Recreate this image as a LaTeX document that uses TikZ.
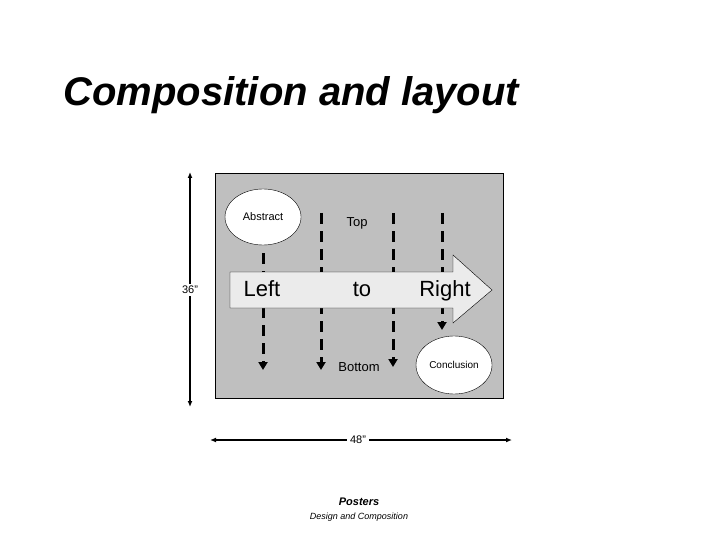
\documentclass[tikz,border=0pt]{standalone}
\usepackage{fontspec}
\setmainfont{Liberation Sans}
\usetikzlibrary{arrows.meta,shapes.geometric}
\begin{document}
\begin{tikzpicture}[x=1pt,y=-1pt,
 dimarrow/.style={line width=1.5pt,-{Latex[length=6pt,width=5pt]}},
 flow/.style={line width=3pt,dash pattern=on 11pt off 7pt,-{Triangle[length=8pt,width=9pt]}},
 oval/.style={draw,fill=white,ellipse,minimum width=76pt,minimum height=56pt,inner sep=0pt},
 lbl/.style={font=\fontsize{22}{22}\selectfont,text height=16pt,text depth=5pt}]
\useasboundingbox (0,0) rectangle (720,540);
\node[anchor=west,font=\bfseries\itshape\fontsize{40}{40}\selectfont] (title) at (60,95) {Composition and layout};
\node[draw,fill=black!25,minimum width=288pt,minimum height=225pt,anchor=north west] (poster) at (215,173) {};
\coordinate (a1) at (263,253); \coordinate (b1) at (263,370);
\coordinate (a2) at (321,213); \coordinate (b2) at (321,370);
\coordinate (a3) at (393,213); \coordinate (b3) at (393,367);
\coordinate (a4) at (442,213); \coordinate (b4) at (442,330);
\foreach \i in {1,2,3,4} \draw[flow] (a\i) -- (b\i);
% big arrow
\draw[fill=black!8] (230,272) -- (453,272) -- (453,255) -- (492,290) -- (453,323) -- (453,308) -- (230,308) -- cycle;
\node[oval] (abs) at (263,217) {\fontsize{11}{11}\selectfont Abstract};
\node[oval,minimum height=58pt] (conc) at (454,365) {\fontsize{10}{10}\selectfont Conclusion};
\node[font=\fontsize{13}{13}\selectfont] (top) at (357,223) {Top};
\node[font=\fontsize{13}{13}\selectfont] (bot) at (359,367) {Bottom};
\node[lbl] (left) at (262,291) {Left};
\node[lbl] (to) at (362,291) {to};
\node[lbl] (right) at (445,291) {Right};
\coordinate (v1) at (190,172); \coordinate (v2) at (190,407);
\node[fill=white,inner sep=2pt,font=\fontsize{11}{11}\selectfont] (h36) at (190,290) {36”};
\draw[dimarrow] (h36.north) -- (v1);
\draw[dimarrow] (h36.south) -- (v2);
\coordinate (h1) at (210,440); \coordinate (h2) at (512,440);
\node[inner sep=3pt,font=\fontsize{11}{11}\selectfont] (w48) at (358,440) {48”};
\draw[dimarrow] (w48.west) -- (h1);
\draw[dimarrow] (w48.east) -- (h2);
\node[font=\bfseries\itshape\fontsize{11}{11}\selectfont] (post) at (359,502) {Posters};
\node[font=\itshape\fontsize{9}{9}\selectfont] (dc) at (359,517) {Design and Composition};
\end{tikzpicture}
\end{document}
